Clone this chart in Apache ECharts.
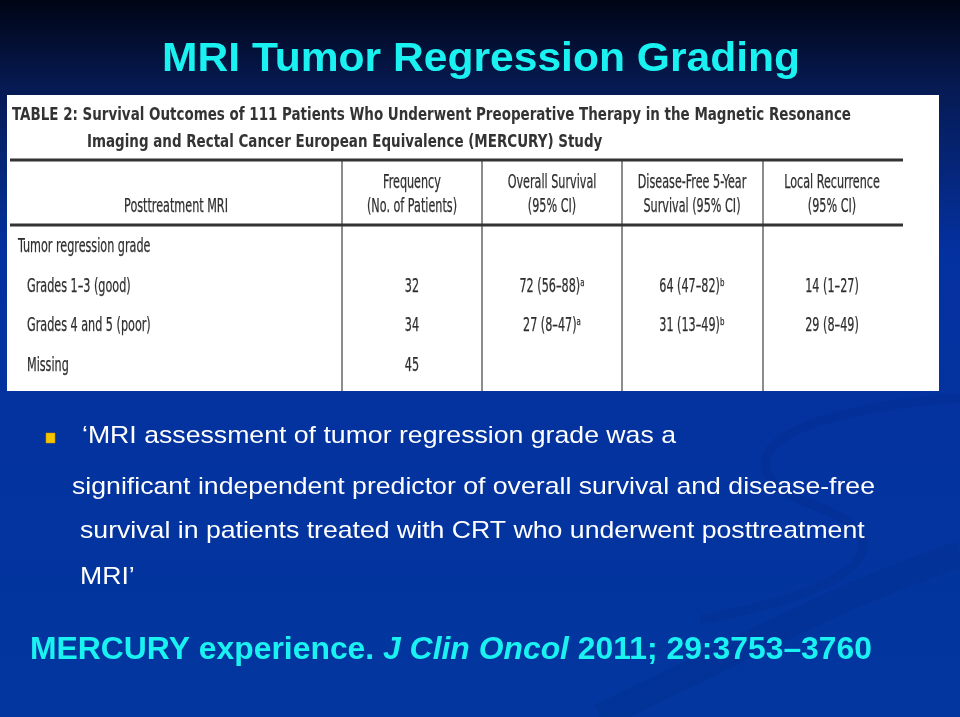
<!DOCTYPE html>
<html>
<head>
<meta charset="utf-8">
<script src="https://cdn.jsdelivr.net/npm/echarts@6/dist/echarts.min.js"></script>
<style>
  html, body { margin: 0; padding: 0; }
  #main { width: 960px; height: 717px; }
</style>
</head>
<body>
<div id="main"></div>
<script>
// slide text
const slideTitle = 'MRI Tumor Regression Grading'
const tableTitle = [
  'TABLE 2: Survival Outcomes of 111 Patients Who Underwent Preoperative Therapy in the Magnetic Resonance',
  'Imaging and Rectal Cancer European Equivalence (MERCURY) Study'
]
// table columns (header lines)
const columnHeaders = [
  ['Posttreatment MRI'],
  ['Frequency', '(No. of Patients)'],
  ['Overall Survival', '(95% CI)'],
  ['Disease-Free 5-Year', 'Survival (95% CI)'],
  ['Local Recurrence', '(95% CI)']
]
const groupLabel = 'Tumor regression grade'
const rowLabels = ['Grades 1–3 (good)', 'Grades 4 and 5 (poor)', 'Missing']
const frequency = [32, 34, 45]
const overallSurvival = ['72 (56–88)ᵃ', '27 (8–47)ᵃ', '']
const diseaseFree = ['64 (47–82)ᵇ', '31 (13–49)ᵇ', '']
const localRecurrence = ['14 (1–27)', '29 (8–49)', '']
const bulletLines = [
  '‘MRI assessment of tumor regression grade was a',
  'significant independent predictor of overall survival and disease-free',
  'survival in patients treated with CRT who underwent posttreatment',
  'MRI’'
]
const citation = ['MERCURY experience. ', 'J Clin Oncol', ' 2011; 29:3753–3760']

const chart = echarts.init(document.getElementById('main'))

// measure text so fonts can be squeezed to the slide widths
const cv = document.createElement('canvas').getContext('2d')
function textW(text, font) {
  cv.font = font
  return cv.measureText(text).width
}

const cyan = '#1af2f2'
const ink = '#2e2e2e'
const tblFont = '"Liberation Sans Narrow", "DejaVu Sans Condensed", sans-serif'
const tblBold = 'bold 18px ' + tblFont
const tblReg = '19px ' + tblFont
const tScale = 839 / textW(tableTitle[0], tblBold)
const cellScale = 90 / textW(columnHeaders[1][1], tblReg)

let g = []

// background
g.push({
  type: 'rect', z: 0, silent: true,
  shape: { x: 0, y: 0, width: 960, height: 717 },
  style: {
    fill: new echarts.graphic.LinearGradient(0, 0, 0, 1, [
      { offset: 0, color: '#000414' },
      { offset: 0.12, color: '#061a52' },
      { offset: 0.35, color: '#0431a0' },
      { offset: 1, color: '#03369e' }
    ])
  }
})
// faint swirls
const swirl = 'rgba(0,30,110,0.13)'
g.push({
  type: 'bezierCurve', z: 1, silent: true,
  shape: { x1: 600, y1: 717, x2: 960, y2: 555, cpx1: 740, cpy1: 650, cpx2: 860, cpy2: 585 },
  style: { stroke: swirl, lineWidth: 26, fill: null }
})
g.push({
  type: 'bezierCurve', z: 1, silent: true,
  shape: { x1: 960, y1: 398, x2: 800, y2: 500, cpx1: 780, cpy1: 410, cpx2: 720, cpy2: 460 },
  style: { stroke: swirl, lineWidth: 9, fill: null }
})
g.push({
  type: 'bezierCurve', z: 1, silent: true,
  shape: { x1: 800, y1: 500, x2: 700, y2: 620, cpx1: 920, cpy1: 540, cpx2: 860, cpy2: 590 },
  style: { stroke: swirl, lineWidth: 9, fill: null }
})

// slide title
const titleFont = 'bold 40px "Liberation Sans", Arial, sans-serif'
g.push({
  type: 'text', z: 5, x: 481, y: 60,
  scaleX: 638 / textW(slideTitle, titleFont),
  style: { text: slideTitle, font: titleFont, fill: cyan, align: 'center', verticalAlign: 'middle' }
})

// table panel
g.push({
  type: 'rect', z: 2,
  shape: { x: 7, y: 95, width: 932, height: 296 },
  style: { fill: '#ffffff' }
})
tableTitle.forEach(function (t, i) {
  g.push({
    type: 'text', z: 5, x: i === 0 ? 12 : 87, y: 115 + i * 27, scaleX: tScale,
    style: { text: t, font: tblBold, fill: '#333333', align: 'left', verticalAlign: 'middle' }
  })
})
// rules
;[160, 225].forEach(function (y) {
  g.push({
    type: 'line', z: 4,
    shape: { x1: 10, y1: y, x2: 903, y2: y },
    style: { stroke: '#333333', lineWidth: 3 }
  })
})
const colEdges = [342, 482, 622, 763]
colEdges.forEach(function (x) {
  g.push({
    type: 'line', z: 3,
    shape: { x1: x, y1: 161, x2: x, y2: 391 },
    style: { stroke: '#666666', lineWidth: 1.5 }
  })
})

// cell text, lightly stroked so the narrow face reads as heavy as the scan
function cellText(t, x, y, align) {
  return {
    type: 'text', z: 5, x: x, y: y, scaleX: cellScale,
    style: { text: t, font: tblReg, fill: ink, stroke: ink, lineWidth: 0.25, align: align, verticalAlign: 'middle' }
  }
}

// headers
const colCenters = [176, 412, 552, 692, 832]
columnHeaders.forEach(function (lines, c) {
  lines.forEach(function (t, k) {
    const y = lines.length === 1 ? 207 : 183 + k * 24
    g.push(cellText(t, colCenters[c], y, 'center'))
  })
})

// body
g.push(cellText(groupLabel, 18, 247, 'left'))
const rowY = [287, 326, 366]
rowLabels.forEach(function (lab, r) {
  const cells = [frequency[r] + '', overallSurvival[r], diseaseFree[r], localRecurrence[r]]
  g.push(cellText(lab, 27, rowY[r], 'left'))
  cells.forEach(function (v, c) {
    if (!v) return
    g.push(cellText(v, colCenters[c + 1], rowY[r], 'center'))
  })
})

// bullet
g.push({
  type: 'rect', z: 5,
  shape: { x: 46, y: 433, width: 9, height: 10 },
  style: { fill: '#f5c400', stroke: '#c89000', lineWidth: 0.5 }
})
const bodyFont = '24px "Liberation Sans", Arial, sans-serif'
const bScale = 803 / textW(bulletLines[1], bodyFont)
const bulletX = [82, 72, 80, 80]
const bulletY = [436, 487, 531, 577]
bulletLines.forEach(function (t, i) {
  g.push({
    type: 'text', z: 5, x: bulletX[i], y: bulletY[i], scaleX: bScale,
    style: { text: t, font: bodyFont, fill: '#ffffff', align: 'left', verticalAlign: 'middle' }
  })
})

// citation
const citeB = 'bold 32px "Liberation Sans", Arial, sans-serif'
const citeI = 'italic bold 32px "Liberation Sans", Arial, sans-serif'
const citeW = textW(citation[0], citeB) + textW(citation[1], citeI) + textW(citation[2], citeB)
g.push({
  type: 'text', z: 5, x: 30, y: 650, scaleX: 842 / citeW,
  style: {
    text: '{b|' + citation[0] + '}{i|' + citation[1] + '}{b|' + citation[2] + '}',
    align: 'left', verticalAlign: 'middle',
    rich: {
      b: { font: citeB, fill: cyan },
      i: { font: citeI, fill: cyan }
    }
  }
})

chart.setOption({
  animation: false,
  graphic: { elements: g }
})
</script>
</body>
</html>
